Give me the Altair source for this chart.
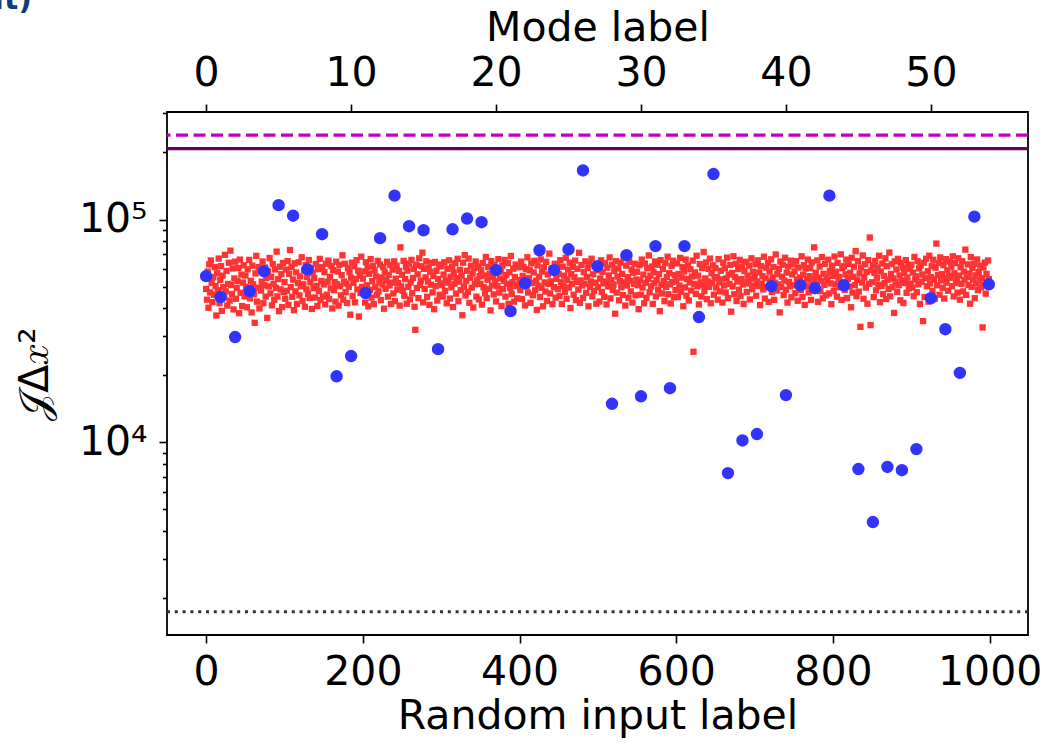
import altair as alt
import pandas as pd

# ---- data ----
# red squares: value for each random input label 0..999, in units of 100
red_values_hundreds = [
488,437,584,402,629,471,655,519,426,551,459,612,503,371,574,482,668,421,536,618,389,560,497,448,694,476,588,411,514,640,433,725,508,463,603,395,544,647,441,492,529,606,380,661,469,566,409,521,623,452,
561,498,404,598,483,659,443,531,383,621,512,462,344,573,687,428,494,612,399,590,480,526,648,421,507,609,451,547,362,585,501,672,466,553,412,631,515,436,597,494,718,452,540,388,614,486,569,405,638,473,
524,441,596,479,651,414,571,730,497,613,450,538,392,636,476,579,418,519,643,457,556,502,677,431,512,594,406,624,486,552,463,658,445,523,605,397,577,493,546,447,632,504,409,599,478,666,435,530,611,451,
511,581,416,634,460,526,654,440,553,491,618,399,592,482,524,428,647,513,584,411,626,502,457,563,691,437,527,633,472,516,422,604,499,580,374,548,640,454,520,617,425,541,657,486,590,367,561,468,681,498,
543,470,585,424,643,507,609,408,571,484,664,446,529,619,417,591,497,556,459,652,476,523,628,435,549,511,612,398,582,489,534,646,451,565,506,625,418,521,596,466,649,430,543,621,485,518,588,411,750,501,
565,479,652,455,540,612,419,590,499,633,438,522,659,467,547,600,406,320,627,493,568,444,670,507,532,617,710,425,601,488,550,649,450,527,609,414,583,510,639,471,558,396,645,502,589,433,541,628,460,517,
616,508,452,566,643,478,533,421,601,521,656,442,553,496,613,405,578,515,637,465,545,666,430,526,595,482,560,372,640,500,692,456,530,589,474,668,423,548,620,495,572,403,606,513,648,451,535,614,438,557,
514,594,415,637,497,561,467,679,444,537,613,489,572,391,651,506,551,461,626,528,429,599,502,664,470,544,584,409,621,487,531,659,451,563,515,637,419,580,493,686,463,523,602,428,552,628,503,443,611,511,
535,483,647,440,558,613,514,412,599,500,677,470,546,592,423,636,518,457,579,652,481,531,393,622,505,554,449,662,494,584,408,610,522,475,646,431,567,514,703,466,528,603,417,581,497,633,446,542,619,487,
571,454,657,523,418,614,502,560,474,673,441,536,596,495,640,401,569,513,613,460,551,654,435,525,601,485,709,423,533,625,506,445,580,516,649,469,553,606,408,632,499,527,667,452,568,478,617,521,419,593,
497,611,428,544,656,473,582,517,450,637,527,416,608,501,561,676,443,534,627,484,511,588,378,650,470,555,603,434,529,641,497,570,458,671,522,411,621,506,551,446,646,531,476,596,424,577,515,633,457,538,
583,507,396,624,533,460,661,495,566,421,634,520,445,605,541,690,472,560,501,615,418,580,518,648,452,535,627,484,569,388,657,509,466,600,529,430,637,499,552,681,462,574,512,420,619,524,653,448,563,482,
531,636,449,570,505,673,474,549,611,408,585,496,661,455,541,622,433,522,598,480,555,654,255,514,579,464,688,501,560,416,631,523,452,606,509,715,477,544,642,439,528,601,499,668,421,574,519,623,460,549,
605,495,551,437,664,523,476,589,539,424,640,506,604,471,545,675,444,566,514,625,386,576,501,684,462,552,633,431,527,599,484,659,454,540,616,511,418,588,524,646,473,560,517,621,438,542,670,487,583,505,
553,630,455,527,656,503,579,413,618,516,557,486,681,442,545,608,497,639,427,584,528,663,473,550,612,436,520,697,480,569,512,601,383,648,498,554,627,458,532,674,484,578,424,615,525,502,654,448,567,629,
507,585,467,651,539,432,609,517,550,483,684,449,566,624,414,603,503,538,661,471,557,605,436,642,522,545,750,486,578,514,655,427,549,615,477,530,678,443,571,509,632,457,553,536,660,466,588,517,417,620,
559,478,682,512,583,451,639,529,552,497,698,436,605,520,617,484,568,661,444,542,632,500,577,404,674,470,553,614,508,721,453,536,651,475,573,330,609,522,690,441,550,630,495,581,419,658,515,830,336,592,
523,625,449,576,652,481,548,610,511,688,426,585,503,635,463,558,518,670,440,617,537,488,711,452,570,631,497,544,381,649,524,597,473,666,507,561,434,638,533,609,422,575,519,657,469,549,616,491,602,515,
627,496,578,453,679,538,556,472,650,512,604,418,623,526,567,350,640,449,546,667,502,586,428,688,517,551,617,478,660,539,441,608,780,507,563,638,460,676,533,569,494,624,442,545,664,521,591,479,557,648,
548,614,502,684,452,574,637,519,543,470,670,560,437,611,515,650,476,584,535,733,459,553,629,508,572,419,678,499,606,538,633,444,562,516,662,482,581,529,621,496,546,328,609,506,641,465,570,521,655,540,
]
random_labels = list(range(len(red_values_hundreds)))

# blue circles: value for each mode label 0..54
mode_values = [55700, 44900, 29700, 47700, 58600, 116000, 104000, 59800, 85900, 19800,
               24400, 46800, 82500, 128000, 93300, 89500, 26200, 90400, 101000, 97300,
               59300, 38800, 51800, 72800, 59300, 73500, 166000, 61800, 14900, 69200,
               16100, 76000, 17500, 76000, 36500, 160000, 7280, 10200, 10900, 50200,
               16300, 50700, 49200, 128000, 50700, 7590, 4390, 7760, 7500, 9330,
               44400, 32200, 20500, 103000, 51200]
mode_labels = list(range(len(mode_values)))

dashed_level = [239000]
solid_level = [208000]
dotted_level = [1740]

x_bottom_ticks = [0, 200, 400, 600, 800, 1000]
x_top_ticks = [0, 10, 20, 30, 40, 50]
y_major = [10000, 100000]
y_major_labels = ["10⁴", "10⁵"]
y_minor = [2000, 3000, 4000, 5000, 6000, 7000, 8000, 9000,
           20000, 30000, 40000, 50000, 60000, 70000, 80000, 90000,
           200000, 300000]
corner_caption = ["ut)"]

# ---- tables ----
red_df = pd.DataFrame({"label": random_labels, "value": [v * 100 for v in red_values_hundreds]})
blue_df = pd.DataFrame({"mode": mode_labels, "value": mode_values})
minor_df = pd.DataFrame({"v": y_minor})
dash_df = pd.DataFrame({"level": dashed_level})
solid_df = pd.DataFrame({"level": solid_level})
dot_df = pd.DataFrame({"level": dotted_level})
cap_df = pd.DataFrame({"t": corner_caption})

FONT = "DejaVu Sans"
ys = alt.Scale(type="log", domain=[1367, 303700], nice=False)
xb = alt.Scale(domain=[-49.95, 1048.95], nice=False, zero=False)
xt = alt.Scale(domain=[-2.7, 56.7], nice=False, zero=False)

label_expr = " : ".join(
    [f"datum.value == {v} ? '{l}'" for v, l in zip(y_major, y_major_labels)] + ["''"]
)

red = alt.Chart(red_df).mark_square(size=40, color="#ff3333", opacity=1).encode(
    x=alt.X("label:Q", scale=xb,
            axis=alt.Axis(orient="bottom", values=x_bottom_ticks, format="d",
                          title="Random input label",
                          tickSize=8, labelPadding=9, titlePadding=4, labelFlush=False)),
    y=alt.Y("value:Q", scale=ys,
            axis=alt.Axis(orient="left", values=y_major, labelExpr=label_expr,
                          title="𝒥Δ𝑥²", tickSize=8, labelPadding=12, titlePadding=22,
                          labelBaseline="middle")),
)

minor = alt.Chart(minor_df).mark_point(opacity=0).encode(
    y=alt.Y("v:Q", scale=ys,
            axis=alt.Axis(orient="left", values=y_minor, labels=False, tickSize=4.5, title="")),
)

dash = alt.Chart(dash_df).mark_rule(color="#bf00bf", strokeWidth=3.2, strokeDash=[12, 5.5]).encode(
    y=alt.Y("level:Q", scale=ys, axis=None))
solid = alt.Chart(solid_df).mark_rule(color="#640064", strokeWidth=3.2).encode(
    y=alt.Y("level:Q", scale=ys, axis=None))
dot = alt.Chart(dot_df).mark_rule(color="#333333", strokeWidth=3, strokeDash=[3, 4.8]).encode(
    y=alt.Y("level:Q", scale=ys, axis=None))

blue = alt.Chart(blue_df).mark_circle(size=154, color="#3333ff", opacity=1).encode(
    x=alt.X("mode:Q", scale=xt,
            axis=alt.Axis(orient="top", values=x_top_ticks, format="d", title="Mode label",
                          tickSize=8, labelPadding=10, titlePadding=3, labelFlush=False)),
    y=alt.Y("value:Q", scale=ys, axis=None),
)

cap = alt.Chart(cap_df).mark_text(
    align="right", baseline="alphabetic", fontSize=30, font=FONT, fontWeight="bold", color="#0f3f7a"
).encode(text="t:N", x=alt.value(-135), y=alt.value(-103))

chart = alt.layer(minor, dash, solid, dot, red, blue, cap).resolve_scale(
    x="independent"
).resolve_axis(
    x="independent", y="independent"
).properties(
    width=861, height=523,
    autosize=alt.AutoSizeParams(type="none"),
    padding={"left": 167, "top": 112, "right": 28, "bottom": 108},
).configure_view(
    stroke="black", strokeWidth=1.8
).configure_axis(
    grid=False, domain=False, tickColor="black", tickWidth=1.6,
    labelFont=FONT, labelFontSize=41, labelColor="black",
    titleFont=FONT, titleFontSize=41, titleFontWeight="normal", titleColor="black",
)

chart.save("out.html", embed_options={"renderer": "svg", "actions": False})
